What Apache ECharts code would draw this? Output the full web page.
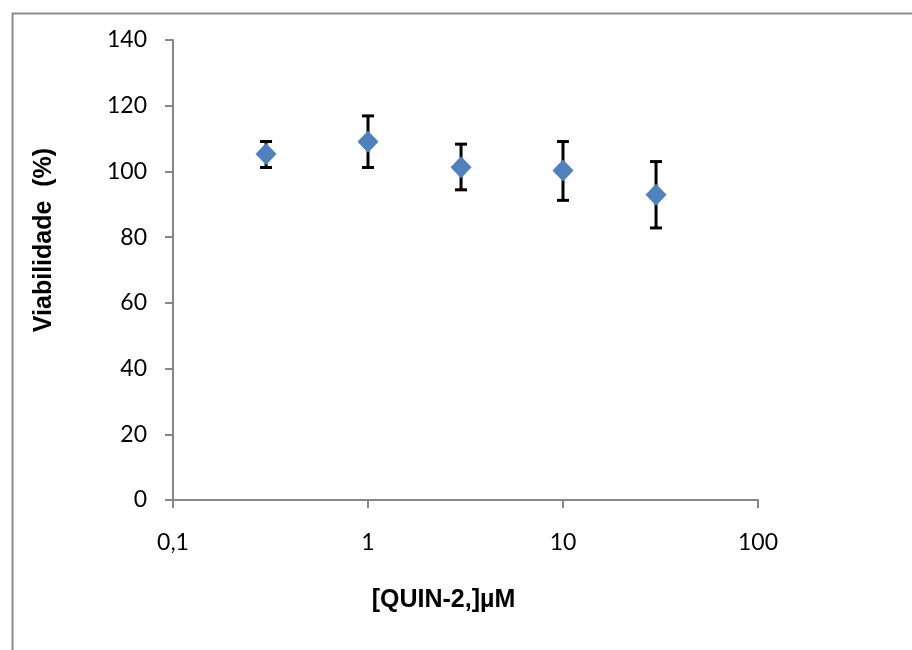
<!DOCTYPE html>
<html>
<head>
<meta charset="utf-8">
<script src="https://cdn.jsdelivr.net/npm/echarts@6/dist/echarts.min.js"></script>
<style>
body{margin:0;background:#fff;}
#main{width:912px;height:650px;}
</style>
</head>
<body>
<div id="main"></div>
<script>
var concentracao = [0.3, 1, 3, 10, 30];
var viabilidade = [105.3, 109.0, 101.3, 100.3, 92.9];
var erroBaixo = [101.2, 101.2, 94.4, 91.2, 82.8];
var erroAlto = [109.1, 116.9, 108.3, 109.1, 103.0];

var pontos = [];
var barras = [];
for (var i = 0; i < concentracao.length; i++)
{
	pontos.push([concentracao[i], viabilidade[i]]);
	barras.push([concentracao[i], erroBaixo[i], erroAlto[i]]);
}

var myChart = echarts.init(document.getElementById('main'));
var tickFont = {color:'#000', fontSize:23, fontFamily:'Lato, "Open Sans", sans-serif'};
var titleFont = {color:'#000', fontSize:25, fontWeight:'bold', fontFamily:'Arial, "Liberation Sans", sans-serif'};

//barras de erro desenhadas com custom series
function renderErro(params, api)
{
	var x = api.value(0);
	var lo = api.coord([x, api.value(1)]);
	var hi = api.coord([x, api.value(2)]);
	var cap = 6;
	var st = {stroke:'#000', lineWidth:3};
	return {
		type:'group',
		children:[
			{type:'line', shape:{x1:lo[0], y1:lo[1], x2:hi[0], y2:hi[1]}, style:st},
			{type:'line', shape:{x1:lo[0]-cap, y1:lo[1], x2:lo[0]+cap, y2:lo[1]}, style:st},
			{type:'line', shape:{x1:hi[0]-cap, y1:hi[1], x2:hi[0]+cap, y2:hi[1]}, style:st}
		]
	};
}

var option = {
	backgroundColor:'#fff',
	animation:false,
	graphic:[
		{type:'rect', left:10, top:11, shape:{width:1000, height:800}, style:{fill:'none', stroke:'#8c8c8c', lineWidth:2}, z:-1}
	],
	grid:{left:173, right:154, top:40, bottom:150},
	xAxis:{
		type:'log',
		logBase:10,
		min:0.1,
		max:100,
		name:'[QUIN-2,]µM',
		nameLocation:'middle',
		nameGap:88,
		nameTextStyle:Object.assign({padding:[0, 44, 0, 0]}, titleFont),
		axisLine:{show:true, onZero:false, lineStyle:{color:'#868686', width:2}},
		axisTick:{show:true, length:8, lineStyle:{color:'#868686', width:2}},
		minorTick:{show:false},
		splitLine:{show:false},
		axisLabel:Object.assign({margin:31, formatter:function(v){ return String(Math.round(v*10)/10).replace('.', ','); }}, tickFont)
	},
	yAxis:{
		type:'value',
		min:0,
		max:140,
		interval:20,
		name:'Viabilidade  (%)',
		nameLocation:'middle',
		nameGap:116,
		nameTextStyle:Object.assign({padding:[0, 0, 0, 60]}, titleFont),
		axisLine:{show:true, lineStyle:{color:'#868686', width:2}},
		axisTick:{show:true, length:8, lineStyle:{color:'#868686', width:2}},
		splitLine:{show:false},
		axisLabel:Object.assign({margin:26}, tickFont)
	},
	series:[
		{
			type:'custom',
			renderItem:renderErro,
			data:barras,
			encode:{x:0, y:[1, 2]},
			z:2
		},
		{
			type:'scatter',
			symbol:'diamond',
			symbolSize:[21, 22],
			itemStyle:{color:'#4f81bd', opacity:1},
			data:pontos,
			z:3
		}
	]
};
myChart.setOption(option);
</script>
</body>
</html>
